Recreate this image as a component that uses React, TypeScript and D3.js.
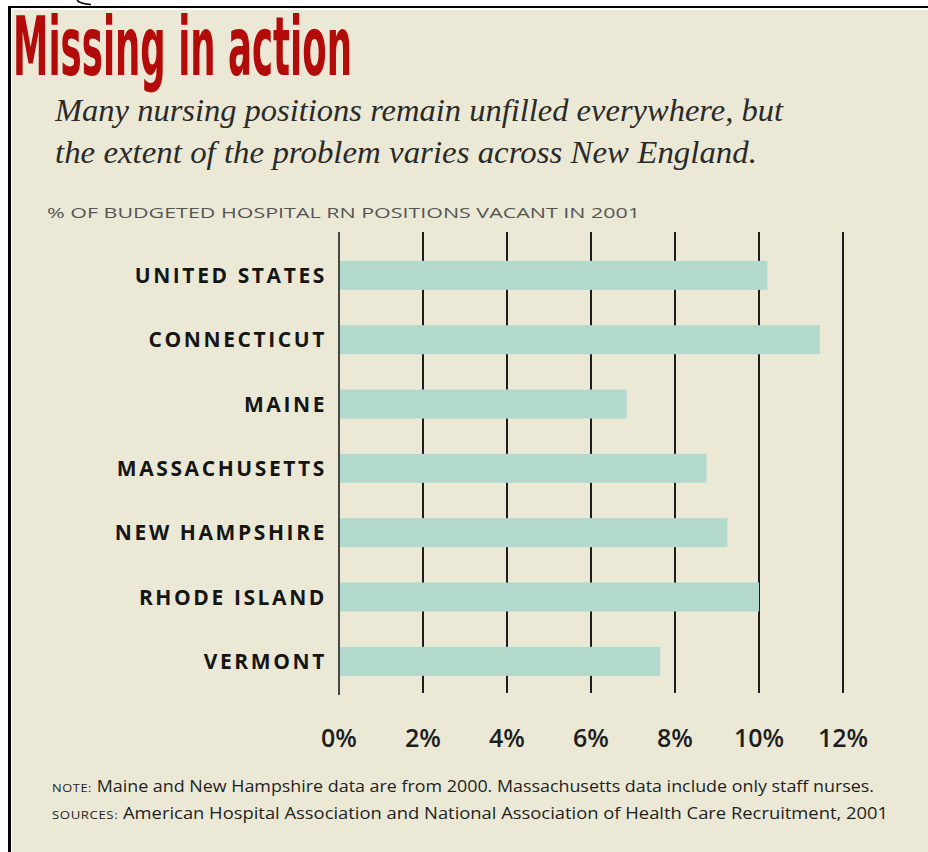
import React, { useEffect, useRef } from "react";
import * as d3 from "d3";

/* DATA */
const states = [
  "UNITED STATES",
  "CONNECTICUT",
  "MAINE",
  "MASSACHUSETTS",
  "NEW HAMPSHIRE",
  "RHODE ISLAND",
  "VERMONT",
];
const vacancyRates = [10.2, 11.45, 6.85, 8.75, 9.25, 10.0, 7.65];
const tickValues = [0, 2, 4, 6, 8, 10, 12];

const title = "Missing in action";
const subtitleLines = [
  "Many nursing positions remain unfilled everywhere, but",
  "the extent of the problem varies across New England.",
];
const axisTitle = "% OF BUDGETED HOSPITAL RN POSITIONS VACANT IN 2001";
const notes = [
  { lead: "NOTE:", text: " Maine and New Hampshire data are from 2000. Massachusetts data include only staff nurses." },
  { lead: "SOURCES:", text: " American Hospital Association and National Association of Health Care Recruitment, 2001" },
];

const App = () => {
  const ref = useRef<SVGSVGElement>(null);

  useEffect(() => {
    const width = 928;
    const height = 852;
    const bgColor = "#ebe9d6";
    const barColor = "#b3d9cd";
    const ink = "#1e1e1e";
    const sans = "'Open Sans', 'DejaVu Sans', sans-serif";

    const svg = d3.select(ref.current);
    svg.selectAll("*").remove();

    /* Frame */
    svg.append("rect").attr("width", width).attr("height", height).attr("fill", "#fff");
    // bit of a letter peeking above the frame
    svg.append("path")
      .attr("d", "M77,0 Q80,4 91,4.5")
      .attr("fill", "none")
      .attr("stroke", "#000")
      .attr("stroke-width", 1.6);
    svg.append("rect").attr("x", 12).attr("y", 10).attr("width", width - 12).attr("height", height - 10).attr("fill", bgColor);
    svg.append("line").attr("x1", 8).attr("x2", width).attr("y1", 7).attr("y2", 7).attr("stroke", "#000").attr("stroke-width", 2);
    svg.append("line").attr("x1", 9.5).attr("x2", 9.5).attr("y1", 6).attr("y2", height).attr("stroke", "#000").attr("stroke-width", 3);

    /* Title */
    svg.append("text")
      .attr("x", 13).attr("y", 75)
      .attr("font-family", "'DejaVu Sans Condensed', 'Liberation Sans Narrow', sans-serif")
      .attr("font-weight", "bold")
      .attr("font-size", 82)
      .attr("fill", "#b30a0a")
      .attr("textLength", 339)
      .attr("lengthAdjust", "spacingAndGlyphs")
      .text(title);

    /* Subtitle */
    const subWidths = [728, 702];
    svg.append("g").selectAll("text")
      .data(subtitleLines)
      .join("text")
      .attr("x", 55)
      .attr("y", (d, i) => 121 + i * 42)
      .attr("font-family", "'Liberation Serif', 'DejaVu Serif', serif")
      .attr("font-style", "italic")
      .attr("font-size", 31)
      .attr("fill", "#2a2a2a")
      .attr("textLength", (d, i) => subWidths[i])
      .attr("lengthAdjust", "spacingAndGlyphs")
      .text((d) => d);

    /* Axis title */
    svg.append("text")
      .attr("x", 47).attr("y", 218)
      .attr("font-family", sans)
      .attr("font-size", 14.5)
      .attr("fill", "#555")
      .attr("textLength", 593)
      .attr("lengthAdjust", "spacingAndGlyphs")
      .text(axisTitle);

    /* Scales */
    const x = d3.scaleLinear().domain([0, 12]).range([339, 843]);
    const y = d3.scalePoint<string>().domain(states).range([243.2, 693.5]).padding(0.5);
    const barHeight = 29;

    /* Grid lines */
    svg.append("g").selectAll("line")
      .data(tickValues)
      .join("line")
      .attr("x1", (d) => x(d))
      .attr("x2", (d) => x(d))
      .attr("y1", 232)
      .attr("y2", (d) => (d === 0 ? 695 : 693))
      .attr("stroke", ink)
      .attr("stroke-width", (d) => (d === 0 ? 1.6 : 2));

    /* Bars */
    svg.append("g").selectAll("rect")
      .data(states)
      .join("rect")
      .attr("x", x(0) + 1)
      .attr("y", (d) => (y(d) as number) - barHeight / 2)
      .attr("width", (d, i) => x(vacancyRates[i]) - x(0) - 1)
      .attr("height", barHeight)
      .attr("fill", barColor);

    /* Category labels */
    svg.append("g").selectAll("text")
      .data(states)
      .join("text")
      .attr("x", 327)
      .attr("y", (d) => y(d) as number)
      .attr("dy", "0.36em")
      .attr("text-anchor", "end")
      .attr("font-family", sans)
      .attr("font-weight", "bold")
      .attr("font-size", 21)
      .attr("letter-spacing", 2.6)
      .attr("fill", "#151515")
      .text((d) => d);

    /* Tick labels */
    svg.append("g").selectAll("text")
      .data(tickValues)
      .join("text")
      .attr("x", (d) => x(d))
      .attr("y", 747)
      .attr("text-anchor", "middle")
      .attr("font-family", sans)
      .attr("font-weight", 600)
      .attr("font-size", 25)
      .attr("fill", ink)
      .text((d) => `${d}%`);

    /* Notes */
    const noteWidths = [822, 836];
    const noteText = svg.append("g").selectAll("text")
      .data(notes)
      .join("text")
      .attr("x", 52)
      .attr("y", (d, i) => 792 + i * 27)
      .attr("font-family", sans)
      .attr("font-size", 16)
      .attr("fill", "#1e1e1e")
      .attr("textLength", (d, i) => noteWidths[i])
      .attr("lengthAdjust", "spacingAndGlyphs");
    noteText.append("tspan").attr("font-size", 11.5).attr("letter-spacing", 0.5).text((d) => d.lead);
    noteText.append("tspan").text((d) => d.text);
  }, []);

  return (
    <svg
      ref={ref}
      width={928}
      height={852}
      style={{ position: "absolute", left: 0, top: 0 }}
    />
  );
};

export default App;
